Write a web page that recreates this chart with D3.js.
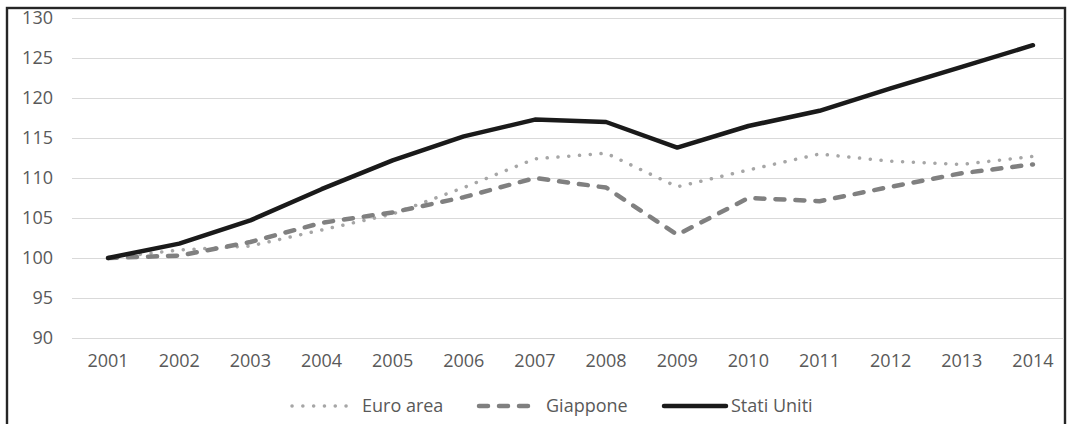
<!DOCTYPE html>
<html>
<head>
<meta charset="utf-8">
<script src="https://cdn.jsdelivr.net/npm/d3@7"></script>
<style>
  html, body { margin: 0; padding: 0; background: #fff; }
  svg { display: block; }
  text { font-family: "Open Sans", "Liberation Sans", sans-serif; fill: #595959; }
</style>
</head>
<body>
<svg id="chart" width="1068" height="424"></svg>
<script>
// Indice (2001 = 100)
const years = ["2001","2002","2003","2004","2005","2006","2007","2008","2009","2010","2011","2012","2013","2014"];
const euroArea   = [100, 101.0, 101.5, 103.5, 105.5, 108.8, 112.4, 113.1, 108.9, 111.0, 113.0, 112.1, 111.7, 112.7];
const giappone   = [100, 100.3, 102.0, 104.4, 105.7, 107.6, 110.0, 108.8, 102.9, 107.5, 107.1, 108.9, 110.6, 111.7];
const statiUniti = [100, 101.8, 104.7, 108.6, 112.2, 115.2, 117.3, 117.0, 113.8, 116.5, 118.4, 121.2, 123.9, 126.6];
const yTicks = [90, 95, 100, 105, 110, 115, 120, 125, 130];

const series = [
  { name: "Euro area",   values: euroArea,   color: "#a6a6a6", width: 3.5, dash: "0.1 10.7" },
  { name: "Giappone",    values: giappone,   color: "#808080", width: 4.5, dash: "9 11" },
  { name: "Stati Uniti", values: statiUniti, color: "#1a1a1a", width: 4.5, dash: null }
];

const fontSize = 18;
const svg = d3.select("#chart");

// frame round the chart
svg.append("rect")
  .attr("x", 7).attr("y", 8)
  .attr("width", 1058).attr("height", 430)
  .attr("fill", "none").attr("stroke", "#262626").attr("stroke-width", 2.4);

const x = d3.scaleBand().domain(years).range([72.5, 1068.5]);
const y = d3.scaleLinear().domain([90, 130]).range([338, 18]);

// horizontal gridlines
svg.append("g")
  .selectAll("line")
  .data(yTicks)
  .join("line")
  .attr("x1", 72).attr("x2", 1064)
  .attr("y1", d => Math.round(y(d)) + 0.5)
  .attr("y2", d => Math.round(y(d)) + 0.5)
  .attr("stroke", "#d9d9d9").attr("stroke-width", 1.2);

// y axis labels
const yAxis = d3.axisLeft(y).tickValues(yTicks).tickSize(0).tickPadding(0);
svg.append("g")
  .attr("transform", "translate(53,0)")
  .call(yAxis)
  .call(g => g.select(".domain").remove())
  .call(g => g.selectAll("text")
    .attr("font-size", fontSize)
    .attr("font-family", "'Open Sans', 'Liberation Sans', sans-serif")
    .attr("fill", "#595959"));

// x axis labels
const xAxis = d3.axisBottom(x).tickSize(0).tickPadding(0);
svg.append("g")
  .attr("transform", "translate(0,354)")
  .call(xAxis)
  .call(g => g.select(".domain").remove())
  .call(g => g.selectAll("text")
    .attr("font-size", fontSize)
    .attr("font-family", "'Open Sans', 'Liberation Sans', sans-serif")
    .attr("fill", "#595959"));

const line = d3.line()
  .x((d, i) => x(years[i]) + x.bandwidth() / 2)
  .y(d => y(d));

svg.append("g")
  .selectAll("path")
  .data(series)
  .join("path")
  .attr("d", d => line(d.values))
  .attr("fill", "none")
  .attr("stroke", d => d.color)
  .attr("stroke-width", d => d.width)
  .attr("stroke-linecap", "round")
  .attr("stroke-linejoin", "round")
  .attr("stroke-dasharray", d => d.dash);

// legend
const legendItems = [
  { s: series[0], x0: 292, x1: 348, tx: 362 },
  { s: series[1], x0: 479, x1: 531, tx: 546 },
  { s: series[2], x0: 664, x1: 726, tx: 731 }
];
const lg = svg.append("g");
legendItems.forEach(it => {
  lg.append("line")
    .attr("x1", it.x0).attr("x2", it.x1)
    .attr("y1", 406).attr("y2", 406)
    .attr("stroke", it.s.color)
    .attr("stroke-width", it.s.width)
    .attr("stroke-linecap", "round")
    .attr("stroke-dasharray", it.s.dash);
  lg.append("text")
    .attr("x", it.tx).attr("y", 406)
    .attr("dy", "0.35em")
    .attr("font-size", fontSize)
    .text(it.s.name);
});
</script>
</body>
</html>
